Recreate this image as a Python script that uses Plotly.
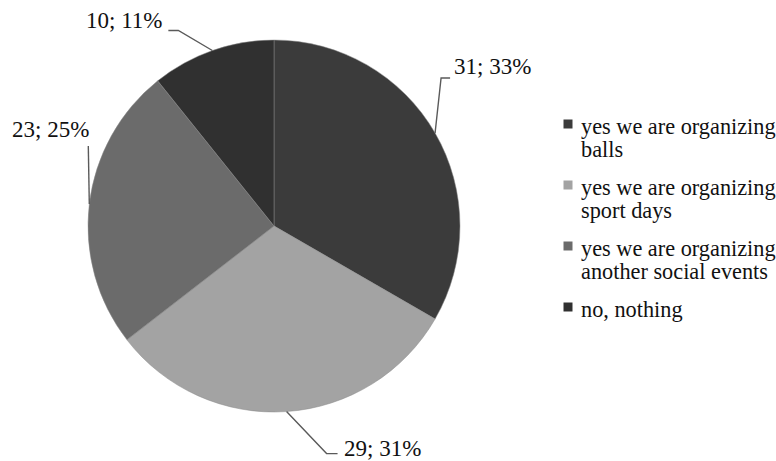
import math
import plotly.graph_objects as go

# ---- data ----
categories = [
    "yes we are organizing<br>balls",
    "yes we are organizing<br>sport days",
    "yes we are organizing<br>another social events",
    "no, nothing",
]
values = [31, 29, 23, 10]
slice_colors = ["#3b3b3b", "#a3a3a3", "#6b6b6b", "#303030"]

# ---- layout constants (page pixels) ----
W, H = 776, 461
CX, CY, R = 274, 226, 186
FONT = "Liberation Serif, Times New Roman, serif"
TXT = "#111111"

# leader-line style: elbow (dx, dy) from edge point, horizontal run,
# text anchor, text offset (dx, dy) from the line end
leader = [
    (6, -55, 9, "left", 2, -12),
    (40, 42, 11, "left", 4, -5),
    (-1, -58, 0, "center", -38, -17),
    (-34, -20, -10, "right", -4, -10),
]

# legend layout (page pixels)
LEG_SQ_X = 568
LEG_TEXT_X = 579
LEG_TOP = 126
LEG_LINE = 22.5
LEG_ITEM_GAP = 16
LEG_FONT = 22.3


def px(x):
    return x / W


def py(y):
    return 1 - y / H


fig = go.Figure()
fig.add_trace(go.Pie(
    labels=categories,
    values=values,
    sort=False,
    direction="clockwise",
    rotation=0,
    marker=dict(colors=slice_colors, line=dict(color="#8a8a8a", width=0.5)),
    textinfo="none",
    hoverinfo="label+value+percent",
    showlegend=False,
    domain=dict(x=[px(CX - R), px(CX + R)], y=[py(CY + R), py(CY - R)]),
))

total = sum(values)
cum = 0
shapes = []
annotations = []
for v, (edx, edy, run, anchor, tdx, tdy) in zip(values, leader):
    mid = (cum + v / 2) / total * 2 * math.pi
    cum += v
    ex = CX + R * math.sin(mid)
    ey = CY - R * math.cos(mid)
    bx, by = ex + edx, ey + edy
    tx, ty = bx + run, by
    path = f"M {px(ex)},{py(ey)} L {px(bx)},{py(by)} L {px(tx)},{py(ty)}"
    shapes.append(dict(type="path", xref="paper", yref="paper", path=path,
                       line=dict(color="#5a5a5a", width=1.4)))
    pct = round(v / total * 100)
    annotations.append(dict(
        x=px(tx + tdx), y=py(ty + tdy), text=f"{v}; {pct}%",
        xanchor=anchor, yanchor="middle", showarrow=False,
        xref="paper", yref="paper",
        font=dict(family=FONT, size=23, color=TXT),
    ))

# manual legend (tight line spacing like the original: the base font size
# sets the line pitch, the span sets the glyph size)
y = LEG_TOP
for name, col in zip(categories, slice_colors):
    lines = name.split("<br>")
    n = len(lines)
    sq_y = y - 2
    shapes.append(dict(type="rect", xref="paper", yref="paper",
                       x0=px(LEG_SQ_X - 4.5), x1=px(LEG_SQ_X + 4.5),
                       y0=py(sq_y + 4.5), y1=py(sq_y - 4.5),
                       fillcolor=col, line=dict(width=0)))
    txt = "<br>".join(f"<span style='font-size:{LEG_FONT}px'>{ln}</span>" for ln in lines)
    annotations.append(dict(
        x=px(LEG_TEXT_X), y=py(y - 14), text=txt, xanchor="left", yanchor="top",
        align="left", showarrow=False, xref="paper", yref="paper",
        font=dict(family=FONT, size=LEG_LINE / 1.3, color=TXT),
    ))
    y += LEG_LINE * n + LEG_ITEM_GAP

fig.update_layout(
    width=W, height=H,
    margin=dict(l=0, r=0, t=0, b=0),
    paper_bgcolor="white",
    plot_bgcolor="white",
    showlegend=False,
    shapes=shapes,
    annotations=annotations,
)

fig.write_html(
    "out.html",
    config={"displayModeBar": False},
    post_script="document.body.style.margin='0';document.body.style.overflow='hidden';",
)
